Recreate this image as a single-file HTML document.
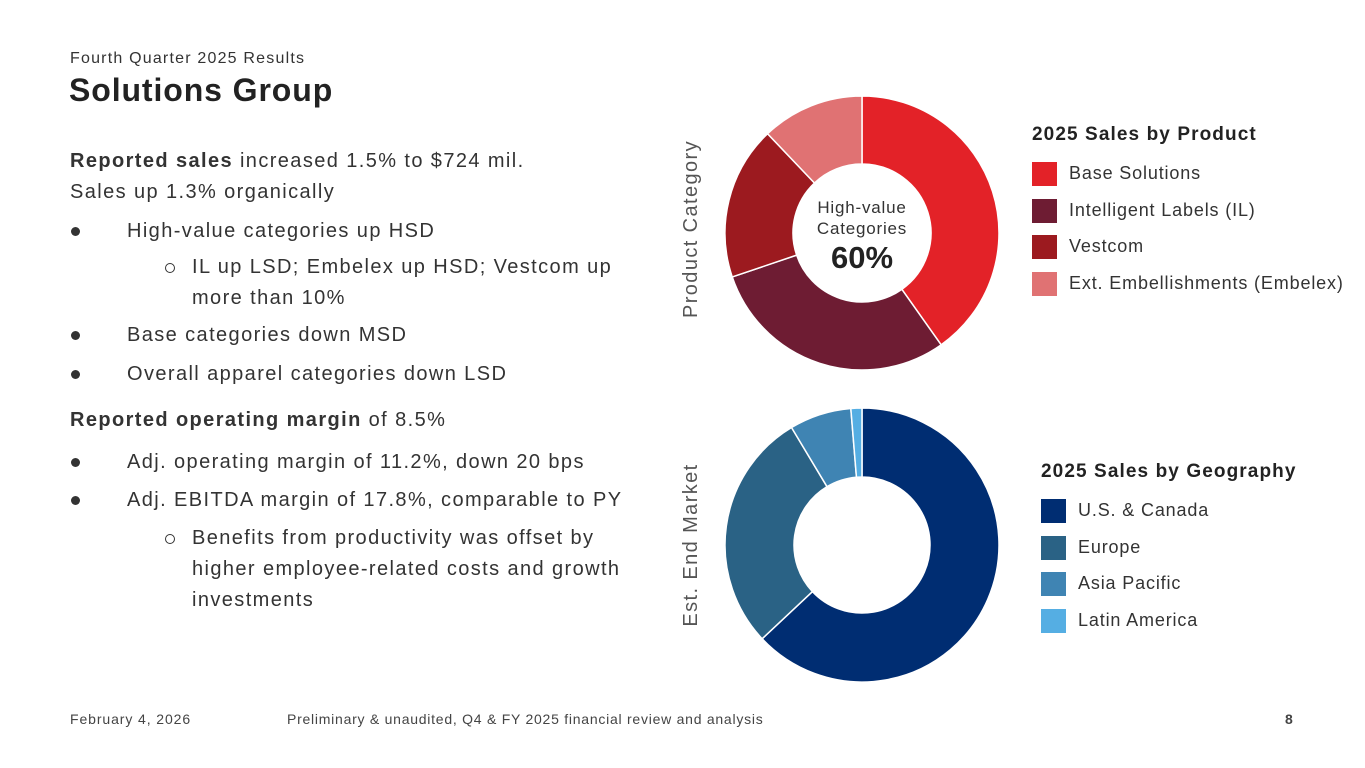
<!DOCTYPE html>
<html><head><meta charset="utf-8"><style>
body{margin:0;width:1365px;height:768px;background:#fff;font-family:"Liberation Sans",sans-serif;color:#222;position:relative;overflow:hidden}
.a{position:absolute;white-space:nowrap}
.t{font-size:20px;color:#333;letter-spacing:1.4px}
.b{font-weight:bold}
.dot{display:inline-block;width:9px;height:9px;border-radius:50%;background:#333;margin-right:47px;margin-left:1px;vertical-align:middle}
.ring{display:inline-block;width:10px;height:10px;border-radius:50%;border:1.5px solid #333;margin-right:17px;vertical-align:middle;box-sizing:border-box}
.leg{font-size:18px;color:#333;letter-spacing:0.85px}
.sw{position:absolute;width:25px;height:24px}
</style></head><body>
<div class="a" style="left:70px;top:50px;font-size:16px;color:#333;letter-spacing:1.2px">Fourth Quarter 2025 Results</div>
<div class="a b" style="left:69px;top:72px;font-size:32px;color:#222;letter-spacing:0.9px">Solutions Group</div>
<div class="a t" style="left:70px;top:150px"><span class="b">Reported sales</span> increased 1.5% to $724 mil.</div>
<div class="a t" style="left:70px;top:181px">Sales up 1.3% organically</div>
<div class="a t" style="left:70px;top:220px"><span class="dot"></span>High-value categories up HSD</div>
<div class="a t" style="left:165px;top:256px"><span class="ring"></span>IL up LSD; Embelex up HSD; Vestcom up</div>
<div class="a t" style="left:192px;top:287px">more than 10%</div>
<div class="a t" style="left:70px;top:324px"><span class="dot"></span>Base categories down MSD</div>
<div class="a t" style="left:70px;top:363px"><span class="dot"></span>Overall apparel categories down LSD</div>
<div class="a t" style="left:70px;top:409px"><span class="b">Reported operating margin</span> of 8.5%</div>
<div class="a t" style="left:70px;top:451px"><span class="dot"></span>Adj. operating margin of 11.2%, down 20 bps</div>
<div class="a t" style="left:70px;top:489px"><span class="dot"></span>Adj. EBITDA margin of 17.8%, comparable to PY</div>
<div class="a t" style="left:165px;top:527px"><span class="ring"></span>Benefits from productivity was offset by</div>
<div class="a t" style="left:192px;top:558px">higher employee-related costs and growth</div>
<div class="a t" style="left:192px;top:589px">investments</div>

<svg class="a" style="left:0;top:0" width="1365" height="768">
<g id="d1"></g><g id="d2"></g>
<text x="697" y="229" transform="rotate(-90 697 229)" text-anchor="middle" font-size="20" letter-spacing="1.4" fill="#555" font-family="Liberation Sans">Product Category</text>
<text x="697" y="545" transform="rotate(-90 697 545)" text-anchor="middle" font-size="20" letter-spacing="1.4" fill="#555" font-family="Liberation Sans">Est. End Market</text>
<text x="862" y="213" text-anchor="middle" font-size="17" letter-spacing="0.8" fill="#333" font-family="Liberation Sans">High-value</text>
<text x="862" y="234" text-anchor="middle" font-size="17" letter-spacing="0.8" fill="#333" font-family="Liberation Sans">Categories</text>
<text x="862" y="268" text-anchor="middle" font-size="31" font-weight="bold" fill="#222" font-family="Liberation Sans">60%</text>
</svg>

<div class="a b" style="left:1032px;top:124px;font-size:19px;color:#222;letter-spacing:1.1px">2025 Sales by Product</div>
<div id="leg1"></div>
<div class="a b" style="left:1041px;top:461px;font-size:19px;color:#222;letter-spacing:1.1px">2025 Sales by Geography</div>
<div id="leg2"></div>

<div class="a" style="left:70px;top:711px;font-size:14px;color:#444;letter-spacing:0.9px">February 4, 2026</div>
<div class="a" style="left:287px;top:711px;font-size:14px;color:#444;letter-spacing:0.75px">Preliminary &amp; unaudited, Q4 &amp; FY 2025 financial review and analysis</div>
<div class="a b" style="left:1285px;top:711px;font-size:14px;color:#444">8</div>

<script>
const productCategories=["Base Solutions","Intelligent Labels (IL)","Vestcom","Ext. Embellishments (Embelex)"];
const productValues=[40.2,29.6,18.1,12.1];
const productColors=["#e32228","#6e1c33","#9c1a1f","#e07273"];
const geoCategories=["U.S. & Canada","Europe","Asia Pacific","Latin America"];
const geoValues=[63,28.4,7.3,1.3];
const geoColors=["#002d72","#2a6285","#3f84b3","#55aee3"];
const NS="http://www.w3.org/2000/svg";
function donut(gid,vals,cols,cx,cy,R,r,names){
  const g=document.getElementById(gid);const tot=vals.reduce((a,b)=>a+b,0);let a0=0;
  vals.forEach((v,i)=>{
    const a1=a0+v/tot*2*Math.PI;
    const p=(ang,rad)=>[cx+rad*Math.sin(ang),cy-rad*Math.cos(ang)];
    const [x0,y0]=p(a0,R),[x1,y1]=p(a1,R),[x2,y2]=p(a1,r),[x3,y3]=p(a0,r);
    const lg=(a1-a0)>Math.PI?1:0;
    const el=document.createElementNS(NS,"path");
    el.setAttribute("d",`M${x0},${y0}A${R},${R} 0 ${lg} 1 ${x1},${y1}L${x2},${y2}A${r},${r} 0 ${lg} 0 ${x3},${y3}Z`);
    el.setAttribute("fill",cols[i]);el.setAttribute("stroke","#fff");el.setAttribute("stroke-width","1.5");
    
    
    g.appendChild(el);a0=a1;
  });
}
donut("d1",productValues,productColors,862,233,137,69,productCategories);
donut("d2",geoValues,geoColors,862,545,137,68,geoCategories);
function legend(id,names,cols,x,y0,dy){
  const c=document.getElementById(id);
  names.forEach((n,i)=>{
    const s=document.createElement("div");s.className="sw";s.style.left=x+"px";s.style.top=(y0+i*dy)+"px";s.style.background=cols[i];
    
    
    const t=document.createElement("div");t.className="a leg";t.style.left=(x+37)+"px";t.style.top=(y0+i*dy+1)+"px";t.textContent=n;
    
    
    c.appendChild(s);c.appendChild(t);
  });
}
legend("leg1",productCategories,productColors,1032,162,36.5);
legend("leg2",geoCategories,geoColors,1041,499,36.5);
</script>
</body></html>
